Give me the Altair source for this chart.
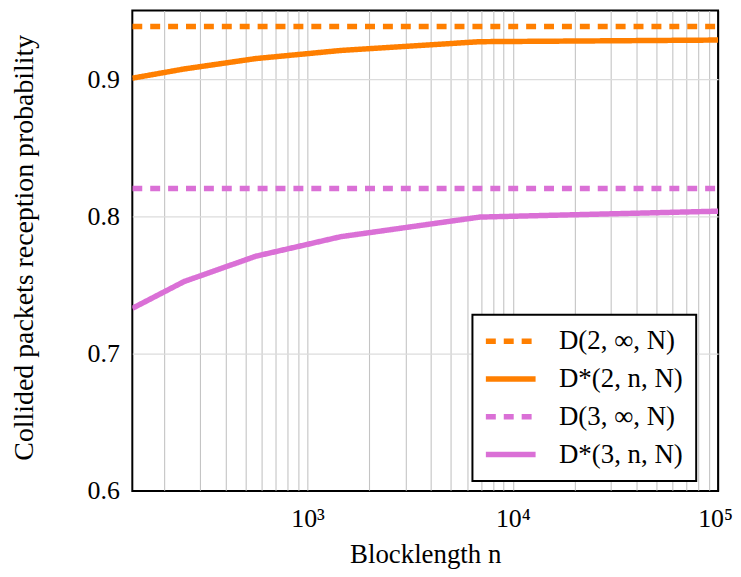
import altair as alt
import pandas as pd

# ---- data ----
n_values = [140, 250, 560, 1450, 6900, 100000]
d2_star = [0.9007, 0.9074, 0.9150, 0.9209, 0.9273, 0.9285]
d3_star = [0.7330, 0.7525, 0.7710, 0.7852, 0.7995, 0.8038]
n_limits = [140, 100000]
d2_inf = [0.9383, 0.9383]
d3_inf = [0.8204, 0.8204]

series_names = ["D(2, ∞, N)", "D*(2, n, N)", "D(3, ∞, N)", "D*(3, n, N)"]
series_colors = ["#ff7f00", "#ff7f00", "#da70d6", "#da70d6"]
series_dash = [[10, 8], [1, 0], [10, 8], [1, 0]]

x_ticks = ([v * 100 for v in range(2, 10)] + [v * 1000 for v in range(1, 10)]
           + [v * 10000 for v in range(1, 11)])
x_tick_labels = {1000: "10³", 10000: "10⁴", 100000: "10⁵"}
y_ticks = [0.6, 0.7, 0.8, 0.9]

rows = []
for n, v in zip(n_limits, d2_inf):
    rows.append({"n": n, "p": v, "series": series_names[0]})
for n, v in zip(n_values, d2_star):
    rows.append({"n": n, "p": v, "series": series_names[1]})
for n, v in zip(n_limits, d3_inf):
    rows.append({"n": n, "p": v, "series": series_names[2]})
for n, v in zip(n_values, d3_star):
    rows.append({"n": n, "p": v, "series": series_names[3]})
df = pd.DataFrame(rows)

label_expr = " : ".join(
    [f"datum.value == {k} ? '{t}'" for k, t in x_tick_labels.items()]
) + " : ''"

legend = alt.Legend(
    title=None,
    orient="none",
    legendX=342,
    legendY=306,
    symbolType="M-2.5,0H2.5",
    symbolSize=400,
    symbolStrokeWidth=5.5,
    symbolOffset=12,
    labelOffset=35,
    padding=13,
    rowPadding=10,
    strokeColor="black",
    fillColor="white",
    labelFont="Liberation Serif",
    labelFontSize=27,
    labelLimit=0,
    cornerRadius=0,
)

chart = alt.Chart(df).mark_line(strokeWidth=5.5, clip=True).encode(
    x=alt.X(
        "n:Q",
        scale=alt.Scale(type="log", domain=[140, 100000], nice=False),
        axis=alt.Axis(
            values=x_ticks,
            labelExpr=label_expr,
            title="Blocklength n",
            grid=True,
            gridColor={"condition": {"test": "datum.value == 100000", "value": "black"}, "value": "#c4c4c4"},
            gridWidth=1.1,
            ticks=False,
            domain=False,
            labelPadding=15,
            labelFlush=False,
            labelOverlap=False,
            labelOffset={"condition": {"test": "datum.value == 100000", "value": -3}, "value": 0},
            labelFontSize=26,
            titleFontSize=27,
            titleBaseline="alphabetic",
            titleY=72,
        ),
    ),
    y=alt.Y(
        "p:Q",
        scale=alt.Scale(domain=[0.6, 0.95], nice=False, zero=False),
        axis=alt.Axis(
            values=y_ticks,
            format=".1f",
            title="Collided packets reception probability",
            grid=True,
            gridColor={"condition": {"test": "datum.value == 0.6", "value": "black"}, "value": "#dcdcdc"},
            gridWidth=1.1,
            ticks=False,
            domain=False,
            labelPadding=13,
            labelFontSize=26,
            titleFontSize=28,
            titleBaseline="alphabetic",
            titleAngle=270,
            titleX=-100,
            titleY=238,
        ),
    ),
    color=alt.Color("series:N", scale=alt.Scale(domain=series_names, range=series_colors), legend=legend),
    strokeDash=alt.StrokeDash("series:N", scale=alt.Scale(domain=series_names, range=series_dash), legend=legend),
).properties(
    width=589,
    height=483,
    autosize=alt.AutoSizeParams(type="none"),
    padding={"left": 125, "top": 1, "right": 15, "bottom": 77},
).configure(
    font="Liberation Serif",
).configure_view(
    stroke="black",
    strokeWidth=2,
).configure_axis(
    labelColor="black",
    titleColor="black",
    labelFont="Liberation Serif",
    titleFont="Liberation Serif",
    titleFontWeight="normal",
).configure_legend(
    strokeWidth=2,
)

chart.save("out.html", embed_options={"renderer": "svg", "actions": False})
